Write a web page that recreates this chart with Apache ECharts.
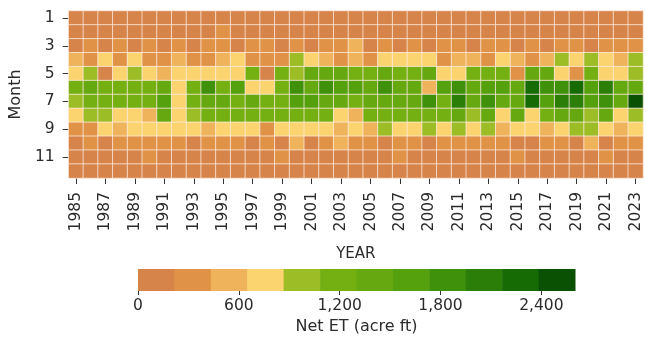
<!DOCTYPE html>
<html><head><meta charset="utf-8">
<script src="https://cdn.jsdelivr.net/npm/echarts@6/dist/echarts.min.js"></script>
<style>html,body{margin:0;padding:0;background:#fff}#c{width:646px;height:341px}</style>
</head><body><div id="c"></div>
<script>
// ---- data ----
const years = ['1985','1986','1987','1988','1989','1990','1991','1992','1993','1994','1995','1996','1997',
  '1998','1999','2000','2001','2002','2003','2004','2005','2006','2007','2008','2009','2010',
  '2011','2012','2013','2014','2015','2016','2017','2018','2019','2020','2021','2022','2023'];
const months = ['1','2','3','4','5','6','7','8','9','10','11','12'];
const colorbarTicks = [0, 600, 1200, 1800, 2400];
const etMin = 0, etMax = 2600;
const binColors = ['#d6844a','#e09347','#efb35c','#fbd36f','#9cbd25','#74b012','#66a80f',
  '#55a00d','#3f900a','#2b7e08','#176b05','#0b5103'];

const jan = [120,110,130,100,125,115,105,120,110,135,140,125,120, 115,110,130,125,120,110,105,120,130,115,110,125, 120,115,110,125,130,120,110,115,125,120,110,130,125,120];
const feb = [150,140,160,130,150,170,140,150,160,170,240,200,160, 170,150,160,180,200,150,160,170,180,160,150,170, 180,160,150,190,170,160,170,150,160,180,170,160,150,170];
const mar = [190,260,180,250,200,280,170,240,190,270,300,200,250, 260,190,280,200,250,270,460,180,260,200,240,190,270, 260,200,250,270,190,280,180,250,300,190,260,280,240];
const apr = [520,330,760,300,780,320,290,540,310,280,560,770,300, 320,290,960,730,500,300,560,310,800,760,720,790,300, 530,570,320,750,490,300,540,940,760,970,740,520,990];
const may = [780,990,190,740,1000,800,600,760,820,780,760,810,1180, 210,1200,1040,1380,1420,1350,1190,1230,1460,1170,1250,1400,790, 770,1210,1160,1240,330,1440,1470,800,300,1220,760,720,1010];
const jun = [1150,1420,1230,1200,1260,1180,1380,800,1240,1850,1210,1650,780, 750,1240,1880,1440,1820,1600,1680,1400,1900,1460,1380,560,1620, 1860,1420,1640,1700,1450,2290,1800,1880,2320,1620,2080,1400,1370];
const jul = [1000,1200,1250,1190,1230,1270,1650,820,1210,1420,1380,1260,1400, 1190,1230,1620,1580,1450,1380,1280,1420,1470,1400,1440,1880,1240, 2050,1420,1820,1380,1450,2300,1640,2000,2100,1690,1800,1460,2520];
const aug = [760,1000,1050,780,740,610,1400,800,990,1180,1230,1170,1210, 1160,1200,1240,1180,1220,770,560,1190,1250,1210,1230,1180,1240, 1350,1040,1400,790,1380,760,1210,1440,1360,1060,1400,780,1020];
const sep = [300,340,760,560,780,720,700,740,790,600,750,720,780, 330,740,790,770,760,580,800,610,960,720,780,950,760, 970,760,990,560,700,740,580,720,1000,1010,760,600,740];
const oct = [200,280,190,300,320,270,260,330,180,290,310,280,200, 260,190,470,200,290,450,300,280,190,320,300,200,270, 280,300,270,310,200,190,290,330,180,480,190,290,320];
const nov = [150,160,140,170,160,230,150,170,160,150,180,170,160, 150,240,160,170,150,160,170,150,160,230,170,160,150, 150,170,160,150,240,160,150,170,160,150,230,160,170];
const dec = [110,120,100,115,105,125,110,120,100,115,130,120,110, 105,115,120,110,125,115,100,110,120,115,105,120,110, 115,110,120,105,115,125,110,120,115,105,120,110,115];

const monthly = [jan,feb,mar,apr,may,jun,jul,aug,sep,oct,nov,dec];
const heatData = [];
monthly.forEach((row, m) => row.forEach((v, y) => heatData.push([y, m, v])));

const binW = (etMax - etMin) / binColors.length;
const pieces = binColors.map((c, i) => (i === binColors.length - 1)
  ? { gte: etMin + i * binW, lte: etMax, color: c }
  : { gte: etMin + i * binW, lt: etMin + (i + 1) * binW, color: c });
const cbData = binColors.map((c, i) => [etMin + i * binW, etMin + (i + 1) * binW, i]);

const FONT = 'DejaVu Sans';
const TXT = '#2b2b2b';
const TICKF = 15.5, NAMEF = 16;
const chart = echarts.init(document.getElementById('c'), null, { renderer: 'canvas' });
chart.setOption({
  animation: false,
  backgroundColor: '#ffffff',
  textStyle: { fontFamily: FONT },
  grid: [
    { left: 67, right: 3, top: 11, height: 167 },
    { left: 138, right: 71, top: 269, height: 22 }
  ],
  xAxis: [
    { type: 'category', gridIndex: 0, data: years,
      name: 'YEAR', nameLocation: 'middle', nameGap: 69,
      nameTextStyle: { fontFamily: FONT, fontSize: 15, color: TXT },
      axisLine: { show: false },
      axisTick: { show: true, interval: 1, alignWithLabel: true, length: 6, lineStyle: { color: '#333' } },
      axisLabel: { interval: 1, rotate: 90, margin: 14, fontFamily: FONT, fontSize: TICKF, color: TXT },
      splitLine: { show: false } },
    { type: 'value', gridIndex: 1, min: etMin, max: etMax,
      name: 'Net ET (acre ft)', nameLocation: 'middle', nameGap: 28,
      nameTextStyle: { fontFamily: FONT, fontSize: NAMEF, color: TXT },
      axisLine: { show: false },
      axisTick: { show: true, length: 4, customValues: colorbarTicks, lineStyle: { color: '#333' } },
      axisLabel: { customValues: colorbarTicks, margin: 7, fontFamily: FONT, fontSize: TICKF, color: TXT,
        formatter: v => Number(v).toLocaleString('en-US') },
      splitLine: { show: false } }
  ],
  yAxis: [
    { type: 'category', gridIndex: 0, data: months, inverse: true,
      name: 'Month', nameLocation: 'middle', nameGap: 38, nameRotate: 90,
      nameTextStyle: { fontFamily: FONT, fontSize: NAMEF, color: TXT },
      axisLine: { show: false },
      axisTick: { show: true, interval: 1, alignWithLabel: true, length: 6, lineStyle: { color: '#333' } },
      axisLabel: { interval: 1, margin: 14, fontFamily: FONT, fontSize: TICKF, color: TXT },
      splitLine: { show: false } },
    { type: 'value', gridIndex: 1, min: 0, max: 1, show: false }
  ],
  visualMap: {
    type: 'piecewise', show: false, dimension: 2, seriesIndex: 0, pieces: pieces
  },
  series: [
    { type: 'heatmap', xAxisIndex: 0, yAxisIndex: 0, data: heatData,
      itemStyle: { borderColor: 'rgba(255,236,225,0.75)', borderWidth: 1 },
      emphasis: { disabled: true } },
    { type: 'custom', xAxisIndex: 1, yAxisIndex: 1, data: cbData, silent: true,
      renderItem: (params, api) => {
        const p0 = api.coord([api.value(0), 1]);
        const p1 = api.coord([api.value(1), 0]);
        return { type: 'rect',
          shape: { x: p0[0], y: p0[1], width: p1[0] - p0[0] + 0.5, height: p1[1] - p0[1] },
          style: { fill: binColors[api.value(2)] } };
      } }
  ]
});
</script></body></html>
